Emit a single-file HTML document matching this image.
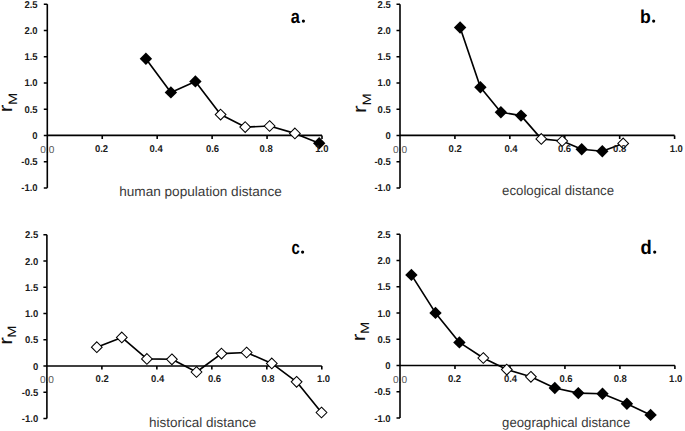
<!DOCTYPE html>
<html><head><meta charset="utf-8"><style>
html,body{margin:0;padding:0;background:#fff;}
body{width:685px;height:431px;overflow:hidden;}
svg{display:block;}
text{font-family:"Liberation Sans",sans-serif;text-rendering:geometricPrecision;}
.tl text{font-size:9.9px;font-weight:bold;fill:#1c1c1c;text-anchor:end;}
.tl text[text-anchor=middle]{text-anchor:middle;}
.z{font-size:10.1px;fill:#585858;}
.rm{font-size:19px;fill:#111;}
.m{font-size:12.2px;fill:#111;}
.let{text-rendering:geometricPrecision;font-size:19px;font-weight:bold;fill:#000;}
.ttl{font-size:13.5px;fill:#3a3a3a;}
</style></head><body>
<svg width="685" height="431" viewBox="0 0 685 431">
<rect width="685" height="431" fill="#fff"/>
<g><text class="z" x="47.3" y="152.5" text-anchor="middle">0.0</text>
<path d="M47.3 4.15V187.9" stroke="#000" stroke-width="1.6" fill="none"/>
<path d="M43.8 4.15H47.3M43.8 30.4H47.3M43.8 56.65H47.3M43.8 82.9H47.3M43.8 109.15H47.3M43.8 135.4H47.3M43.8 161.65H47.3M43.8 187.9H47.3" stroke="#000" stroke-width="1.5" fill="none"/>
<path d="M47.3 135.4H322" stroke="#000" stroke-width="1.6" fill="none"/>
<path d="M102.24 135.4V138.9M157.18 135.4V138.9M212.12 135.4V138.9M267.06 135.4V138.9M322 135.4V138.9" stroke="#000" stroke-width="1.6" fill="none"/>
<path d="M145.9 58.7 L170.9 92.4 L195.4 81.4 L220.6 114.6 L245.2 127.1 L269.6 126 L294.9 133.4 L319.2 143.3" stroke="#000" stroke-width="1.65" fill="none" stroke-linejoin="round"/>
<path d="M145.9 52.5L152.1 58.7L145.9 64.9L139.7 58.7Z" fill="#000"/>
<path d="M170.9 86.2L177.1 92.4L170.9 98.6L164.7 92.4Z" fill="#000"/>
<path d="M195.4 75.2L201.6 81.4L195.4 87.6L189.2 81.4Z" fill="#000"/>
<path d="M220.6 109.25L225.95 114.6L220.6 119.95L215.25 114.6Z" fill="#fff" stroke="#000" stroke-width="1.05"/>
<path d="M245.2 121.75L250.55 127.1L245.2 132.45L239.85 127.1Z" fill="#fff" stroke="#000" stroke-width="1.05"/>
<path d="M269.6 120.65L274.95 126L269.6 131.35L264.25 126Z" fill="#fff" stroke="#000" stroke-width="1.05"/>
<path d="M294.9 128.05L300.25 133.4L294.9 138.75L289.55 133.4Z" fill="#fff" stroke="#000" stroke-width="1.05"/>
<path d="M319.2 137.1L325.4 143.3L319.2 149.5L313 143.3Z" fill="#000"/>
<g class="tl"><text transform="translate(37.6 7.7) scale(0.96 1)">2.5</text><text transform="translate(37.6 33.95) scale(0.96 1)">2.0</text><text transform="translate(37.6 60.2) scale(0.96 1)">1.5</text><text transform="translate(37.6 86.45) scale(0.96 1)">1.0</text><text transform="translate(37.6 112.7) scale(0.96 1)">0.5</text><text transform="translate(37.6 138.95) scale(0.96 1)">0</text><text transform="translate(37.6 165.2) scale(0.96 1)">-0.5</text><text transform="translate(37.6 191.45) scale(0.96 1)">-1.0</text><text transform="translate(101.5 151.8) scale(0.96 1)" text-anchor="middle">0.2</text><text transform="translate(156.1 151.8) scale(0.96 1)" text-anchor="middle">0.4</text><text transform="translate(212.5 151.8) scale(0.96 1)" text-anchor="middle">0.6</text><text transform="translate(266.1 151.8) scale(0.96 1)" text-anchor="middle">0.8</text><text transform="translate(321.9 151.8) scale(0.96 1)" text-anchor="middle">1.0</text></g>
<text class="rm" transform="translate(12.4 112.3) rotate(-90) scale(1.2 1)">r</text>
<text class="m" transform="translate(17 104.9) rotate(-90) scale(1.2 1)">M</text>
<text class="let" transform="translate(290.7 22.6) scale(0.86 1.0)">a</text>
<circle cx="303.4" cy="21.1" r="1.6" fill="#000"/>
<text class="ttl" x="119.2" y="195.8" textLength="162.6" lengthAdjust="spacingAndGlyphs">human population distance</text></g>
<g><text class="z" x="400" y="152.5" text-anchor="middle">0.0</text>
<path d="M400 4.15V187.9" stroke="#000" stroke-width="1.6" fill="none"/>
<path d="M396.5 4.15H400M396.5 30.4H400M396.5 56.65H400M396.5 82.9H400M396.5 109.15H400M396.5 135.4H400M396.5 161.65H400M396.5 187.9H400" stroke="#000" stroke-width="1.5" fill="none"/>
<path d="M400 135.4H674.6" stroke="#000" stroke-width="1.6" fill="none"/>
<path d="M454.92 135.4V138.9M509.84 135.4V138.9M564.76 135.4V138.9M619.68 135.4V138.9M674.6 135.4V138.9" stroke="#000" stroke-width="1.6" fill="none"/>
<path d="M460.1 27.5 L480.4 87.2 L500.9 112.2 L521 115.6 L541.3 138.9 L562.2 141 L581.7 149.2 L602.3 151.2 L623.2 143.4" stroke="#000" stroke-width="1.65" fill="none" stroke-linejoin="round"/>
<path d="M460.1 21.3L466.3 27.5L460.1 33.7L453.9 27.5Z" fill="#000"/>
<path d="M480.4 81L486.6 87.2L480.4 93.4L474.2 87.2Z" fill="#000"/>
<path d="M500.9 106L507.1 112.2L500.9 118.4L494.7 112.2Z" fill="#000"/>
<path d="M521 109.4L527.2 115.6L521 121.8L514.8 115.6Z" fill="#000"/>
<path d="M541.3 133.55L546.65 138.9L541.3 144.25L535.95 138.9Z" fill="#fff" stroke="#000" stroke-width="1.05"/>
<path d="M562.2 135.65L567.55 141L562.2 146.35L556.85 141Z" fill="#fff" stroke="#000" stroke-width="1.05"/>
<path d="M581.7 143L587.9 149.2L581.7 155.4L575.5 149.2Z" fill="#000"/>
<path d="M602.3 145L608.5 151.2L602.3 157.4L596.1 151.2Z" fill="#000"/>
<path d="M623.2 138.05L628.55 143.4L623.2 148.75L617.85 143.4Z" fill="#fff" stroke="#000" stroke-width="1.05"/>
<g class="tl"><text transform="translate(390.8 7.7) scale(0.96 1)">2.5</text><text transform="translate(390.8 33.95) scale(0.96 1)">2.0</text><text transform="translate(390.8 60.2) scale(0.96 1)">1.5</text><text transform="translate(390.8 86.45) scale(0.96 1)">1.0</text><text transform="translate(390.8 112.7) scale(0.96 1)">0.5</text><text transform="translate(390.8 138.95) scale(0.96 1)">0</text><text transform="translate(390.8 165.2) scale(0.96 1)">-0.5</text><text transform="translate(390.8 191.45) scale(0.96 1)">-1.0</text><text transform="translate(455.2 151.8) scale(0.96 1)" text-anchor="middle">0.2</text><text transform="translate(511 151.8) scale(0.96 1)" text-anchor="middle">0.4</text><text transform="translate(564.5 151.8) scale(0.96 1)" text-anchor="middle">0.6</text><text transform="translate(619.7 151.8) scale(0.96 1)" text-anchor="middle">0.8</text><text transform="translate(676.3 151.8) scale(0.96 1)" text-anchor="middle">1.0</text></g>
<text class="rm" transform="translate(365.9 113) rotate(-90) scale(1.2 1)">r</text>
<text class="m" transform="translate(370.7 105.6) rotate(-90) scale(1.2 1)">M</text>
<text class="let" transform="translate(640 22.6) scale(0.93 0.98)">b</text>
<circle cx="653.65" cy="21.1" r="1.6" fill="#000"/>
<text class="ttl" x="502" y="195.1" textLength="112.1" lengthAdjust="spacingAndGlyphs">ecological distance</text></g>
<g><text class="z" x="46.9" y="383.1" text-anchor="middle">0.0</text>
<path d="M46.9 234.75V418.5" stroke="#000" stroke-width="1.6" fill="none"/>
<path d="M43.4 234.75H46.9M43.4 261H46.9M43.4 287.25H46.9M43.4 313.5H46.9M43.4 339.75H46.9M43.4 366H46.9M43.4 392.25H46.9M43.4 418.5H46.9" stroke="#000" stroke-width="1.5" fill="none"/>
<path d="M46.9 366H321.8" stroke="#000" stroke-width="1.6" fill="none"/>
<path d="M101.88 366V369.5M156.86 366V369.5M211.84 366V369.5M266.82 366V369.5M321.8 366V369.5" stroke="#000" stroke-width="1.6" fill="none"/>
<path d="M96.8 347.2 L121.8 337.4 L146.9 358.9 L171.9 359.3 L196.5 372 L221.5 353.6 L246.6 352.5 L271.8 363.4 L296.6 381.8 L321.5 412.5" stroke="#000" stroke-width="1.65" fill="none" stroke-linejoin="round"/>
<path d="M96.8 341.85L102.15 347.2L96.8 352.55L91.45 347.2Z" fill="#fff" stroke="#000" stroke-width="1.05"/>
<path d="M121.8 332.05L127.15 337.4L121.8 342.75L116.45 337.4Z" fill="#fff" stroke="#000" stroke-width="1.05"/>
<path d="M146.9 353.55L152.25 358.9L146.9 364.25L141.55 358.9Z" fill="#fff" stroke="#000" stroke-width="1.05"/>
<path d="M171.9 353.95L177.25 359.3L171.9 364.65L166.55 359.3Z" fill="#fff" stroke="#000" stroke-width="1.05"/>
<path d="M196.5 366.65L201.85 372L196.5 377.35L191.15 372Z" fill="#fff" stroke="#000" stroke-width="1.05"/>
<path d="M221.5 348.25L226.85 353.6L221.5 358.95L216.15 353.6Z" fill="#fff" stroke="#000" stroke-width="1.05"/>
<path d="M246.6 347.15L251.95 352.5L246.6 357.85L241.25 352.5Z" fill="#fff" stroke="#000" stroke-width="1.05"/>
<path d="M271.8 358.05L277.15 363.4L271.8 368.75L266.45 363.4Z" fill="#fff" stroke="#000" stroke-width="1.05"/>
<path d="M296.6 376.45L301.95 381.8L296.6 387.15L291.25 381.8Z" fill="#fff" stroke="#000" stroke-width="1.05"/>
<path d="M321.5 407.15L326.85 412.5L321.5 417.85L316.15 412.5Z" fill="#fff" stroke="#000" stroke-width="1.05"/>
<g class="tl"><text transform="translate(38.2 238.3) scale(0.96 1)">2.5</text><text transform="translate(38.2 264.55) scale(0.96 1)">2.0</text><text transform="translate(38.2 290.8) scale(0.96 1)">1.5</text><text transform="translate(38.2 317.05) scale(0.96 1)">1.0</text><text transform="translate(38.2 343.3) scale(0.96 1)">0.5</text><text transform="translate(38.2 369.55) scale(0.96 1)">0</text><text transform="translate(38.2 395.8) scale(0.96 1)">-0.5</text><text transform="translate(38.2 422.05) scale(0.96 1)">-1.0</text><text transform="translate(102.2 382.4) scale(0.96 1)" text-anchor="middle">0.2</text><text transform="translate(157.7 382.4) scale(0.96 1)" text-anchor="middle">0.4</text><text transform="translate(214.5 382.4) scale(0.96 1)" text-anchor="middle">0.6</text><text transform="translate(268 382.4) scale(0.96 1)" text-anchor="middle">0.8</text><text transform="translate(323.5 382.4) scale(0.96 1)" text-anchor="middle">1.0</text></g>
<text class="rm" transform="translate(11.6 344.7) rotate(-90) scale(1.2 1)">r</text>
<text class="m" transform="translate(16.1 337.8) rotate(-90) scale(1.2 1)">M</text>
<text class="let" transform="translate(291.4 253.6) scale(0.78 1.0)">c</text>
<circle cx="302.6" cy="252.1" r="1.6" fill="#000"/>
<text class="ttl" x="149.1" y="426.8" textLength="107.2" lengthAdjust="spacingAndGlyphs">historical distance</text></g>
<g><text class="z" x="400" y="382.6" text-anchor="middle">0.0</text>
<path d="M400 234.25V418" stroke="#000" stroke-width="1.6" fill="none"/>
<path d="M396.5 234.25H400M396.5 260.5H400M396.5 286.75H400M396.5 313H400M396.5 339.25H400M396.5 365.5H400M396.5 391.75H400M396.5 418H400" stroke="#000" stroke-width="1.5" fill="none"/>
<path d="M400 365.5H674.9" stroke="#000" stroke-width="1.6" fill="none"/>
<path d="M454.98 365.5V369M509.96 365.5V369M564.94 365.5V369M619.92 365.5V369M674.9 365.5V369" stroke="#000" stroke-width="1.6" fill="none"/>
<path d="M411.4 274.9 L435.5 312.9 L459.4 342.4 L483.3 358 L506.8 369.6 L530.9 376.8 L554.8 388 L578.3 393.1 L602.5 393.7 L626.9 403.8 L650.6 414.9" stroke="#000" stroke-width="1.65" fill="none" stroke-linejoin="round"/>
<path d="M411.4 268.7L417.6 274.9L411.4 281.1L405.2 274.9Z" fill="#000"/>
<path d="M435.5 306.7L441.7 312.9L435.5 319.1L429.3 312.9Z" fill="#000"/>
<path d="M459.4 336.2L465.6 342.4L459.4 348.6L453.2 342.4Z" fill="#000"/>
<path d="M483.3 352.65L488.65 358L483.3 363.35L477.95 358Z" fill="#fff" stroke="#000" stroke-width="1.05"/>
<path d="M506.8 364.25L512.15 369.6L506.8 374.95L501.45 369.6Z" fill="#fff" stroke="#000" stroke-width="1.05"/>
<path d="M530.9 371.45L536.25 376.8L530.9 382.15L525.55 376.8Z" fill="#fff" stroke="#000" stroke-width="1.05"/>
<path d="M554.8 381.8L561 388L554.8 394.2L548.6 388Z" fill="#000"/>
<path d="M578.3 386.9L584.5 393.1L578.3 399.3L572.1 393.1Z" fill="#000"/>
<path d="M602.5 387.5L608.7 393.7L602.5 399.9L596.3 393.7Z" fill="#000"/>
<path d="M626.9 397.6L633.1 403.8L626.9 410L620.7 403.8Z" fill="#000"/>
<path d="M650.6 408.7L656.8 414.9L650.6 421.1L644.4 414.9Z" fill="#000"/>
<g class="tl"><text transform="translate(390.6 237.8) scale(0.96 1)">2.5</text><text transform="translate(390.6 264.05) scale(0.96 1)">2.0</text><text transform="translate(390.6 290.3) scale(0.96 1)">1.5</text><text transform="translate(390.6 316.55) scale(0.96 1)">1.0</text><text transform="translate(390.6 342.8) scale(0.96 1)">0.5</text><text transform="translate(390.6 369.05) scale(0.96 1)">0</text><text transform="translate(390.6 395.3) scale(0.96 1)">-0.5</text><text transform="translate(390.6 421.55) scale(0.96 1)">-1.0</text><text transform="translate(454.5 381.9) scale(0.96 1)" text-anchor="middle">0.2</text><text transform="translate(510.5 381.9) scale(0.96 1)" text-anchor="middle">0.4</text><text transform="translate(566 381.9) scale(0.96 1)" text-anchor="middle">0.6</text><text transform="translate(620.3 381.9) scale(0.96 1)" text-anchor="middle">0.8</text><text transform="translate(675.7 381.9) scale(0.96 1)" text-anchor="middle">1.0</text></g>
<text class="rm" transform="translate(364.8 341.2) rotate(-90) scale(1.2 1)">r</text>
<text class="m" transform="translate(369.2 334) rotate(-90) scale(1.2 1)">M</text>
<text class="let" transform="translate(640.4 253.6) scale(0.97 1.04)">d</text>
<circle cx="654.7" cy="252.1" r="1.6" fill="#000"/>
<text class="ttl" x="502.1" y="427.3" textLength="128.2" lengthAdjust="spacingAndGlyphs">geographical distance</text></g>
</svg>
</body></html>
